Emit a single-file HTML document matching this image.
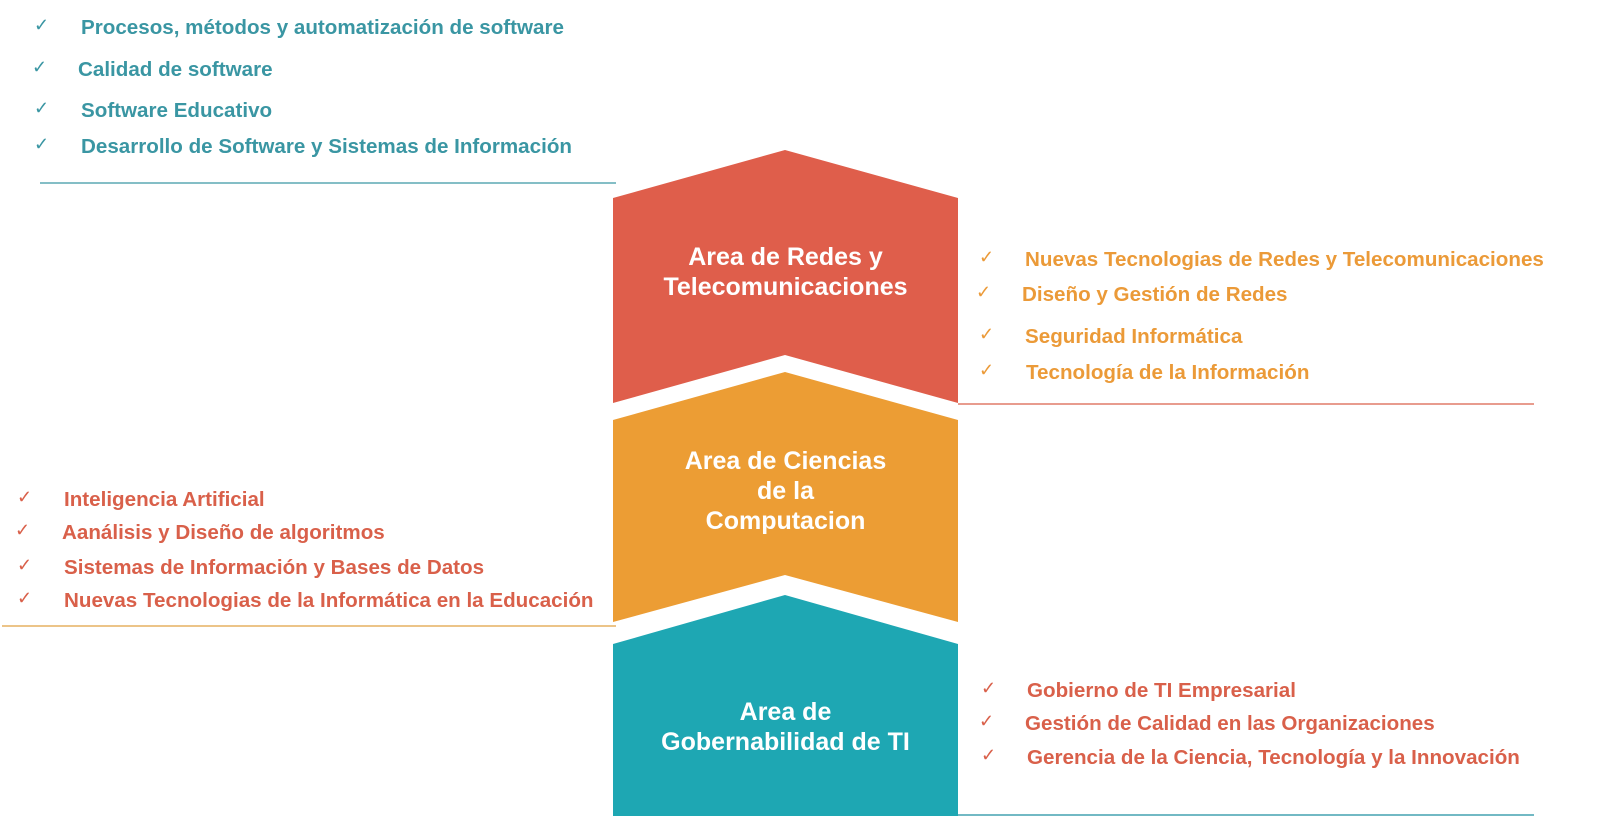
<!DOCTYPE html>
<html><head><meta charset="utf-8"><style>
body{margin:0;width:1620px;height:816px;background:#fff;overflow:hidden;position:relative;font-family:"Liberation Sans",sans-serif;font-weight:bold}
.t{position:absolute;font-size:20.6px;white-space:nowrap;line-height:1}
.c{position:absolute;font-size:18px;font-weight:normal;line-height:1}
.w{position:absolute;color:#fff;font-size:25px;text-align:center;width:345px;left:613px;line-height:30px}
</style></head><body>
<svg width="1620" height="816" style="position:absolute;left:0;top:0">
<polygon points="613,198 785,150 958,198 958,403 785,355 613,403" fill="#df5e4b"/>
<polygon points="613,420 785,372 958,420 958,622 785,575 613,622" fill="#ec9d34"/>
<polygon points="613,644 785,595 958,644 958,816 613,816" fill="#1ea7b3"/>
<line x1="40" y1="183" x2="616" y2="183" stroke="#3a96a3" stroke-width="1.3"/>
<line x1="958" y1="404" x2="1534" y2="404" stroke="#d9604a" stroke-width="1.3"/>
<line x1="2" y1="626" x2="616" y2="626" stroke="#e0a040" stroke-width="1.3"/>
<line x1="958" y1="815" x2="1534" y2="815" stroke="#1e8fa0" stroke-width="1.3"/>
</svg>
<div class="w" style="top:242px">Area de Redes y<br>Telecomunicaciones</div>
<div class="w" style="top:446px">Area de Ciencias<br>de la<br>Computacion</div>
<div class="w" style="top:697px">Area de<br>Gobernabilidad de TI</div>

<div style="color:#3a96a3">
<div class="c" style="left:34px;top:16px">✓</div><div class="t" style="left:81px;top:18px">Procesos, métodos y automatización de software</div>
<div class="c" style="left:32px;top:58px">✓</div><div class="t" style="left:78px;top:60px">Calidad de software</div>
<div class="c" style="left:34px;top:99px">✓</div><div class="t" style="left:81px;top:101px">Software Educativo</div>
<div class="c" style="left:34px;top:135px">✓</div><div class="t" style="left:81px;top:137px">Desarrollo de Software y Sistemas de Información</div>
</div>
<div style="color:#eb9a38">
<div class="c" style="left:979px;top:248px">✓</div><div class="t" style="left:1025px;top:250px">Nuevas Tecnologias de Redes y Telecomunicaciones</div>
<div class="c" style="left:976px;top:283px">✓</div><div class="t" style="left:1022px;top:285px">Diseño y Gestión de Redes</div>
<div class="c" style="left:979px;top:325px">✓</div><div class="t" style="left:1025px;top:327px">Seguridad Informática</div>
<div class="c" style="left:979px;top:361px">✓</div><div class="t" style="left:1026px;top:363px">Tecnología de la Información</div>
</div>
<div style="color:#d9604a">
<div class="c" style="left:17px;top:488px">✓</div><div class="t" style="left:64px;top:490px">Inteligencia Artificial</div>
<div class="c" style="left:15px;top:521px">✓</div><div class="t" style="left:62px;top:523px">Aanálisis y Diseño de algoritmos</div>
<div class="c" style="left:17px;top:556px">✓</div><div class="t" style="left:64px;top:558px">Sistemas de Información y Bases de Datos</div>
<div class="c" style="left:17px;top:589px">✓</div><div class="t" style="left:64px;top:591px">Nuevas Tecnologias de la Informática en la Educación</div>
<div class="c" style="left:981px;top:679px">✓</div><div class="t" style="left:1027px;top:681px">Gobierno de TI Empresarial</div>
<div class="c" style="left:979px;top:712px">✓</div><div class="t" style="left:1025px;top:714px">Gestión de Calidad en las Organizaciones</div>
<div class="c" style="left:981px;top:746px">✓</div><div class="t" style="left:1027px;top:748px">Gerencia de la Ciencia, Tecnología y la Innovación</div>
</div>
</body></html>
